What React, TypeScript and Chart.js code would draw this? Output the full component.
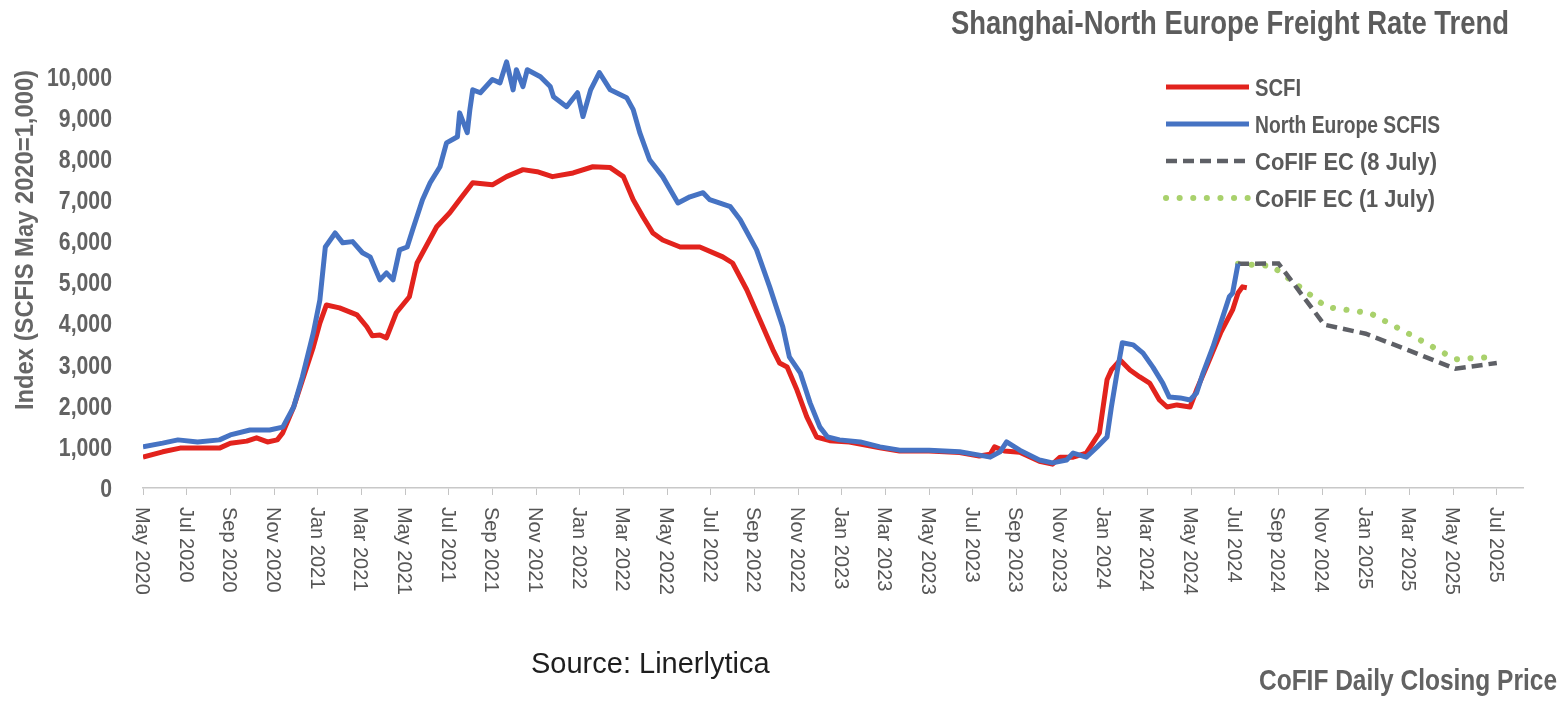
import { useEffect, useRef } from "react";
import { Chart, registerables } from "chart.js";

Chart.register(...registerables);

// Axis ticks: one label every two months, months counted from May 2020 (= 0)
const tickLabels = [
  "May 2020", "Jul 2020", "Sep 2020", "Nov 2020",
  "Jan 2021", "Mar 2021", "May 2021", "Jul 2021", "Sep 2021", "Nov 2021",
  "Jan 2022", "Mar 2022", "May 2022", "Jul 2022", "Sep 2022", "Nov 2022",
  "Jan 2023", "Mar 2023", "May 2023", "Jul 2023", "Sep 2023", "Nov 2023",
  "Jan 2024", "Mar 2024", "May 2024", "Jul 2024", "Sep 2024", "Nov 2024",
  "Jan 2025", "Mar 2025", "May 2025", "Jul 2025",
];
const tickMonths = tickLabels.map((_, i) => i * 2);
const yTicks = [0, 1000, 2000, 3000, 4000, 5000, 6000, 7000, 8000, 9000, 10000];

// North Europe SCFIS (index, May 2020 = 1,000)
const scfisMonths = [
  0, 0.9, 1.6, 2.5, 3.5, 4.0, 4.9, 5.8, 6.4, 6.9, 7.3, 7.8, 8.1, 8.35, 8.8, 9.15, 9.6,
  10.05, 10.4, 10.85, 11.15, 11.45, 11.75, 12.1, 12.35, 12.8, 13.15, 13.6, 13.9, 14.4,
  14.5, 14.85, 14.97, 15.1, 15.45, 16.0, 16.35, 16.65, 16.95, 17.1, 17.4, 17.6, 18.2,
  18.65, 18.8, 19.4, 19.9, 20.15, 20.5, 20.9, 21.4, 22.15, 22.45, 22.75, 23.2, 23.8,
  24.5, 25.05, 25.65, 25.95, 26.9, 27.35, 28.1, 28.7, 29.3, 29.6, 30.1, 30.55, 31.0,
  31.35, 31.9, 32.85, 33.75, 34.65, 36.0, 37.4, 38.3, 38.8, 39.25, 39.55, 40.15, 41.05,
  41.65, 42.3, 42.6, 43.2, 43.7, 44.15, 44.35, 44.65, 44.85, 45.35, 45.8, 46.25, 46.7,
  47.0, 47.5, 47.95, 48.25, 48.55, 49.0, 49.45, 49.75, 49.9, 50.15,
];
const scfisValues = [
  1000, 1090, 1170, 1120, 1170, 1290, 1410, 1410, 1480, 1970, 2700, 3770, 4570, 5860, 6200, 5960, 5990,
  5720, 5620, 5060, 5230, 5060, 5790, 5860, 6280, 7010, 7420, 7810, 8390, 8540,
  9120, 8640, 9200, 9680, 9610, 9930, 9850, 10360, 9680, 10170, 9760, 10170, 10000,
  9760, 9510, 9270, 9610, 9030, 9680, 10100, 9680, 9490, 9200, 8640, 7980, 7570,
  6930, 7080, 7180, 7010, 6840, 6520, 5790, 4890, 3920, 3190, 2800, 2070, 1480,
  1240, 1170, 1120, 1000, 920, 920, 880, 800, 750, 880, 1120, 920, 680,
  610, 680, 850, 750, 1000, 1240, 1970, 2940, 3530, 3480, 3280, 2940, 2550,
  2210, 2190, 2140, 2310, 2800, 3430, 4160, 4650, 4740, 5450,
];

// SCFI (same index base)
const scfiMonths = [
  0, 0.9, 1.7, 3.5, 4.0, 4.75, 5.2, 5.7, 6.15, 6.4, 6.9, 7.5, 7.8, 8.1, 8.4, 9.0, 9.8,
  10.25, 10.5, 10.85, 11.15, 11.6, 12.2, 12.55, 13.45, 14.05, 14.5, 15.1, 16.0, 16.65,
  17.4, 18.05, 18.75, 19.7, 20.6, 21.4, 22.0, 22.45, 22.9, 23.35, 23.8, 24.6, 25.5,
  26.55, 27.0, 27.65, 28.25, 28.85, 29.15, 29.5, 29.95, 30.4, 30.85, 31.45, 32.35,
  33.75, 34.65, 36.0, 37.4, 38.3, 38.8, 39.0, 39.45, 40.15, 41.05, 41.65, 42.0, 42.6,
  43.2, 43.8, 44.15, 44.35, 44.75, 45.2, 45.65, 46.1, 46.55, 46.9, 47.35, 47.95, 48.25,
  48.7, 49.35, 49.9, 50.15, 50.35, 50.55,
];
const scfiValues = [
  750, 880, 970, 970, 1090, 1140, 1220, 1120, 1170, 1340, 1970, 2940, 3430, 4010, 4450, 4380, 4210,
  3920, 3700, 3720, 3650, 4260, 4650, 5470, 6350, 6690, 7010, 7420, 7370, 7570,
  7740, 7690, 7570, 7660, 7810, 7790, 7570, 7010, 6590, 6200, 6030, 5860, 5860,
  5620, 5470, 4820, 4090, 3360, 3040, 2940, 2380, 1730, 1240, 1150, 1120,
  980, 900, 900, 860, 780, 820, 1000, 900, 870, 650, 580, 750, 750,
  850, 1340, 2630, 2870, 3110, 2870, 2700, 2550, 2140, 1970, 2020, 1970, 2380,
  2940, 3770, 4330, 4740, 4890, 4870,
];

// CoFIF EC futures curves (daily closing prices)
const cofif8Months = [50.15, 52, 54.1, 56, 58, 60.1, 62];
const cofif8Values = [5450, 5460, 3970, 3750, 3340, 2900, 3040];
const cofif1Months = [50.15, 51.7, 54.2, 56.2, 58, 60.1, 62];
const cofif1Values = [5450, 5400, 4400, 4250, 3740, 3130, 3190];

const W = 1568;
const H = 702;
const SANS = '"Liberation Sans", Arial, Helvetica, sans-serif';

const RED = "#e2231d";
const BLUE = "#4673c3";
const GREY_DASH = "#5e6066";
const GREEN_DOT = "#a9d16c";

const toPoints = (xs: number[], ys: number[]) => xs.map((x, i) => ({ x, y: ys[i] }));

// Text squeezed horizontally to a given width (stands in for a condensed face)
function fitText(
  ctx: CanvasRenderingContext2D, text: string, x: number, y: number,
  font: string, width: number, align: CanvasTextAlign,
) {
  ctx.font = font;
  const w = ctx.measureText(text).width;
  ctx.save();
  ctx.translate(x, y);
  ctx.scale(width / w, 1);
  ctx.textAlign = align;
  ctx.textBaseline = "alphabetic";
  ctx.fillText(text, 0, 0);
  ctx.restore();
}

function squeezeText(
  ctx: CanvasRenderingContext2D, text: string, x: number, y: number,
  font: string, squeeze: number, align: CanvasTextAlign,
) {
  ctx.font = font;
  ctx.save();
  ctx.translate(x, y);
  ctx.scale(squeeze, 1);
  ctx.textAlign = align;
  ctx.textBaseline = "alphabetic";
  ctx.fillText(text, 0, 0);
  ctx.restore();
}

const legendItems = [
  { text: "SCFI", color: RED, dash: [] as number[], width: 5, cap: "butt" as CanvasLineCap, textWidth: 46 },
  { text: "North Europe SCFIS", color: BLUE, dash: [] as number[], width: 5, cap: "butt" as CanvasLineCap, textWidth: 185 },
  { text: "CoFIF EC (8 July)", color: GREY_DASH, dash: [11, 6], width: 4.5, cap: "butt" as CanvasLineCap, textWidth: 182 },
  { text: "CoFIF EC (1 July)", color: GREEN_DOT, dash: [0.1, 13.5], width: 6, cap: "round" as CanvasLineCap, textWidth: 180 },
];

const annotations = {
  id: "annotations",
  afterDraw(chart: Chart) {
    const { ctx } = chart;
    const xs = chart.scales.x;
    const ys = chart.scales.y;
    ctx.save();

    // y tick labels
    ctx.fillStyle = "#626262";
    ys.ticks.forEach((t) => {
      const py = ys.getPixelForValue(t.value);
      squeezeText(ctx, t.value.toLocaleString("en-US"), 112, py + 9, `bold 25px ${SANS}`, 0.85, "right");
    });

    // y axis title
    ctx.fillStyle = "#666666";
    ctx.save();
    ctx.translate(33, 240);
    ctx.rotate(-Math.PI / 2);
    fitText(ctx, "Index (SCFIS May 2020=1,000)", 0, 0, `bold 25px ${SANS}`, 340, "center");
    ctx.restore();

    // x tick labels, rotated to read downwards
    ctx.fillStyle = "#555555";
    ctx.font = `20px ${SANS}`;
    ctx.textAlign = "left";
    ctx.textBaseline = "alphabetic";
    xs.ticks.forEach((t) => {
      const px = xs.getPixelForValue(t.value);
      const label = tickLabels[Math.round(t.value / 2)];
      ctx.save();
      ctx.translate(px, xs.top + 19);
      ctx.rotate(Math.PI / 2);
      ctx.fillText(label, 0, 7);
      ctx.restore();
    });

    // legend
    const rows = [87, 124, 161, 198];
    legendItems.forEach((item, i) => {
      const y = rows[i];
      ctx.save();
      ctx.strokeStyle = item.color;
      ctx.lineWidth = item.width;
      ctx.lineCap = item.cap;
      ctx.setLineDash(item.dash);
      ctx.beginPath();
      ctx.moveTo(1166, y);
      ctx.lineTo(1249, y);
      ctx.stroke();
      ctx.restore();
      ctx.fillStyle = "#5a5a5a";
      fitText(ctx, item.text, 1255, y + 8.5, `bold 24px ${SANS}`, item.textWidth, "left");
    });

    // title and notes
    ctx.fillStyle = "#5c5c5c";
    fitText(ctx, "Shanghai-North Europe Freight Rate Trend", 1509, 34, `bold 33px ${SANS}`, 558, "right");
    ctx.fillStyle = "#626262";
    fitText(ctx, "CoFIF Daily Closing Price", 1557, 690, `bold 30px ${SANS}`, 298, "right");
    ctx.fillStyle = "#1e1e1e";
    ctx.font = `29px ${SANS}`;
    ctx.textAlign = "left";
    ctx.fillText("Source: Linerlytica", 531, 673);

    ctx.restore();
  },
};

export default function App() {
  const ref = useRef<HTMLCanvasElement>(null);

  useEffect(() => {
    if (!ref.current) return;
    const chart = new Chart(ref.current, {
      type: "line",
      data: {
        datasets: [
          {
            label: "North Europe SCFIS",
            data: toPoints(scfisMonths, scfisValues),
            borderColor: BLUE,
            borderWidth: 5,
            borderJoinStyle: "round",
            order: 0,
          },
          {
            label: "SCFI",
            data: toPoints(scfiMonths, scfiValues),
            borderColor: RED,
            borderWidth: 5,
            borderJoinStyle: "round",
            order: 1,
          },
          {
            label: "CoFIF EC (8 July)",
            data: toPoints(cofif8Months, cofif8Values),
            borderColor: GREY_DASH,
            borderWidth: 4.5,
            borderDash: [11, 6],
            order: 2,
          },
          {
            label: "CoFIF EC (1 July)",
            data: toPoints(cofif1Months, cofif1Values),
            borderColor: GREEN_DOT,
            borderWidth: 6,
            borderDash: [0.1, 13.5],
            borderCapStyle: "round",
            order: 3,
          },
        ],
      },
      options: {
        responsive: false,
        animation: false,
        devicePixelRatio: 1,
        layout: { padding: { top: 52, right: 45, left: 0, bottom: 0 } },
        elements: { point: { radius: 0, hoverRadius: 0 }, line: { tension: 0 } },
        plugins: { legend: { display: false }, tooltip: { enabled: false }, title: { display: false } },
        scales: {
          x: {
            type: "linear",
            min: 0,
            max: 63.2,
            afterBuildTicks: (scale: any) => {
              scale.ticks = tickMonths.map((v) => ({ value: v }));
            },
            afterFit: (scale: any) => {
              scale.height = 214;
            },
            ticks: { display: false },
            grid: {
              display: true,
              drawOnChartArea: false,
              drawTicks: true,
              tickLength: 7,
              color: "#c4c4c4",
              lineWidth: 1,
            },
            border: { display: true, color: "#c8c8c8", width: 1.5 },
          },
          y: {
            type: "linear",
            min: 0,
            max: 10600,
            afterBuildTicks: (scale: any) => {
              scale.ticks = yTicks.map((v) => ({ value: v }));
            },
            afterFit: (scale: any) => {
              scale.width = 143;
            },
            ticks: { display: false },
            grid: { display: false },
            border: { display: false },
          },
        },
      },
      plugins: [annotations],
    });
    return () => chart.destroy();
  }, []);

  return (
    <div style={{ position: "absolute", left: 0, top: 0, width: W, height: H, background: "#ffffff", overflow: "hidden" }}>
      <canvas ref={ref} width={W} height={H} style={{ display: "block", width: W, height: H }} />
    </div>
  );
}
